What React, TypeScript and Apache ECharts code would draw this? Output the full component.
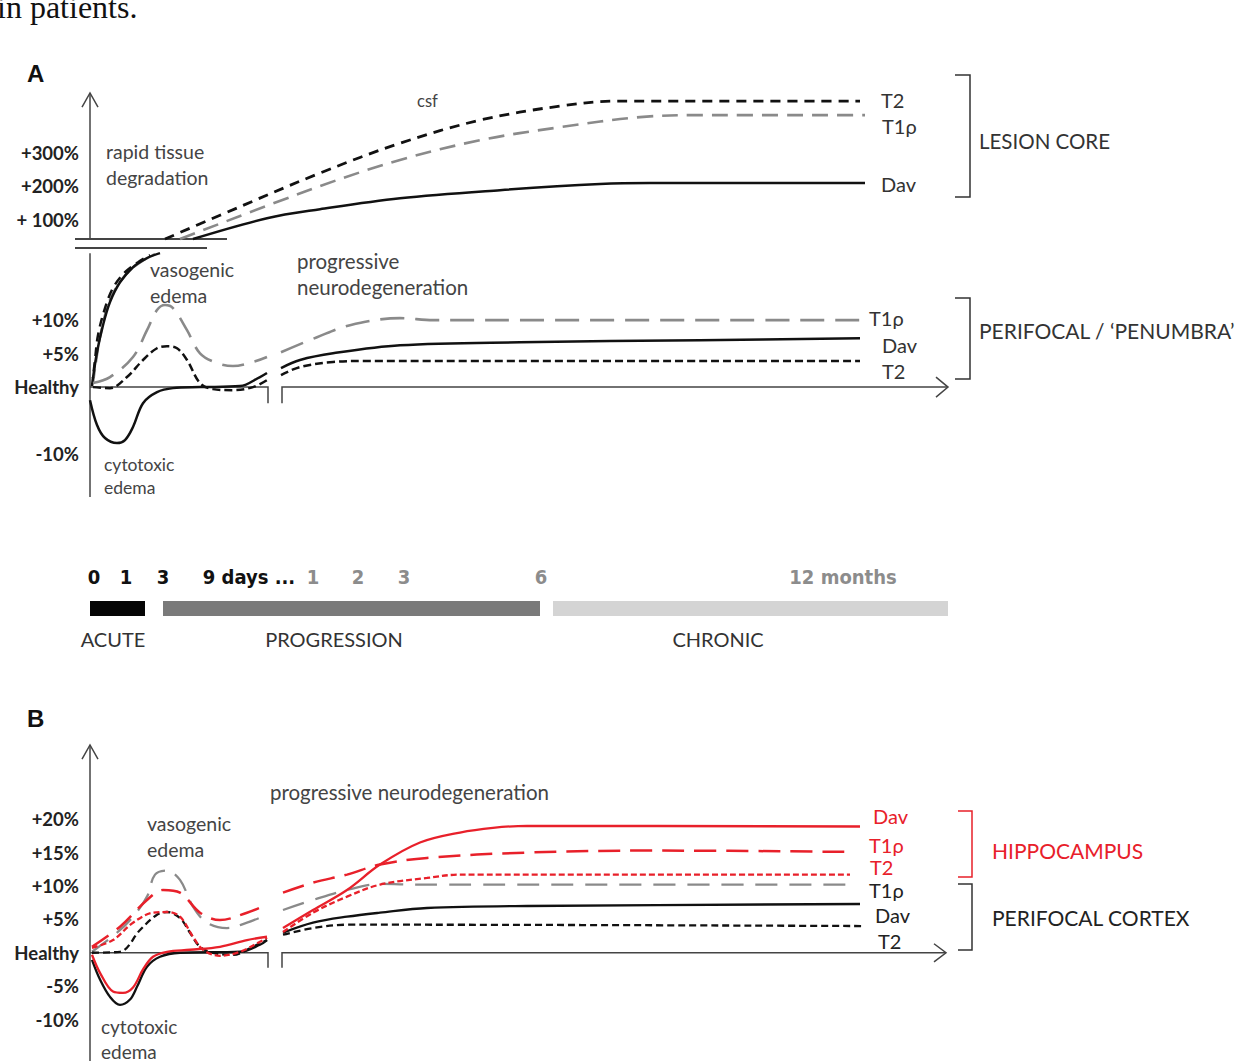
import React, { useEffect, useRef } from 'react';
import * as echarts from 'echarts';

// ---------- Panel A (broken axis, 1 unit = 5% below the break, 100% above it; Healthy = 0) ----------
const A_TICK_VALUES = [-2, 0, 1, 2, 5, 6, 7];
const A_TICK_LABELS = ['-10%', 'Healthy', '+5%', '+10%', '+ 100%', '+200%', '+300%'];

// lesion core, part below the axis break
const CORE_T2_LOW = [[2, 0.03], [5, 0.81], [8, 1.55], [15, 2.36], [23, 2.96], [35, 3.43], [48, 3.73], [60, 3.94]];
const CORE_T1R_LOW = [[3, 0.12], [7, 0.96], [11, 1.64], [18, 2.45], [27, 3.01], [39, 3.46], [52, 3.76], [65, 3.97]];
const CORE_DAV_LOW = [[3, 0.27], [7, 1.04], [13, 1.85], [20, 2.54], [30, 3.13], [43, 3.58], [57, 3.85], [70, 4.0]];
// lesion core, part above the axis break
const CORE_T2_UP = [[75, 4.42], [130, 5.13], [230, 6.39], [310, 7.28], [390, 7.97], [470, 8.39], [530, 8.54], [770, 8.54]];
const CORE_T1R_UP = [[90, 4.42], [230, 6.0], [310, 6.78], [390, 7.37], [470, 7.76], [550, 8.06], [610, 8.12], [775, 8.12]];
const CORE_DAV_UP = [[103, 4.42], [177, 5.04], [230, 5.31], [310, 5.64], [410, 5.88], [510, 6.06], [560, 6.09], [775, 6.09]];

// perifocal / penumbra
const PERI_DAV_EARLY = [[0, -0.39], [7, -1.13], [15, -1.52], [27, -1.67], [35, -1.58], [43, -1.19], [53, -0.48], [67, -0.15], [83, -0.03], [110, 0], [150, 0.03], [170, 0.3], [177, 0.42]];
const PERI_DAV_LATE = [[191, 0.57], [210, 0.81], [243, 1.01], [310, 1.25], [430, 1.34], [610, 1.4], [770, 1.46]];
const PERI_T1R_EARLY = [[3, 0.12], [20, 0.3], [43, 0.9], [57, 1.7], [67, 2.3], [75, 2.45], [83, 2.36], [97, 1.7], [110, 1.01], [127, 0.72], [143, 0.63], [163, 0.75], [177, 0.9]];
const PERI_T1R_LATE = [[191, 1.04], [227, 1.49], [260, 1.85], [310, 2.06], [343, 2.0], [410, 2.0], [770, 2.0]];
const PERI_T2_EARLY = [[3, 0], [20, -0.03], [37, 0.3], [53, 0.81], [67, 1.16], [77, 1.22], [87, 1.16], [97, 0.81], [110, 0.12], [123, -0.06], [143, -0.09], [163, 0], [177, 0.21]];
const PERI_T2_LATE = [[191, 0.36], [210, 0.6], [243, 0.75], [277, 0.78], [770, 0.78]];

// ---------- Panel B (percent change) ----------
const B_TICK_VALUES = [-10, -5, 0, 5, 10, 15, 20];
const B_TICK_LABELS = ['-10%', '-5%', 'Healthy', '+5%', '+10%', '+15%', '+20%'];

const CTX_T1R_EARLY = [[2, 0.15], [27, 3.0], [43, 5.4], [57, 8.4], [65, 11.7], [77, 12.3], [90, 10.9], [103, 6.9], [117, 4.5], [137, 3.7], [157, 4.5], [177, 5.7]];
const CTX_T1R_LATE = [[193, 6.4], [223, 7.9], [257, 9.4], [290, 10.3], [330, 10.2], [762, 10.2]];
const HIP_T1R_EARLY = [[2, 0.9], [30, 3.9], [57, 7.9], [73, 9.4], [90, 9.0], [110, 6.0], [130, 4.9], [157, 6.0], [177, 7.2]];
const HIP_T1R_LATE = [[193, 9.0], [223, 10.5], [257, 11.7], [290, 13.2], [337, 14.2], [437, 15.0], [560, 15.3], [760, 15.1]];
const HIP_T2_EARLY = [[2, 0.75], [23, 1.9], [43, 4.5], [63, 6.0], [77, 6.1], [90, 5.4], [103, 2.4], [113, 0.45], [130, -0.45], [150, 0.15], [170, 1.65], [177, 2.25]];
const HIP_T2_LATE = [[193, 3.1], [223, 6.0], [257, 8.4], [290, 10.2], [337, 11.2], [370, 11.7], [760, 11.7]];
const CTX_T2_EARLY = [[2, 0], [30, 0.15], [50, 3.4], [67, 5.7], [77, 6.1], [90, 5.2], [100, 3.0], [110, 0.9], [123, 0], [143, -0.3], [163, 0.9], [177, 1.9]];
const CTX_T2_LATE = [[193, 2.7], [223, 3.7], [257, 4.2], [310, 4.2], [772, 4.0]];
const CTX_DAV_EARLY = [[2, -1.05], [10, -4.0], [20, -6.6], [30, -7.8], [40, -7.0], [47, -5.1], [57, -2.1], [70, -0.6], [90, 0], [150, 0.15], [170, 1.2], [177, 1.9]];
const CTX_DAV_LATE = [[193, 3.0], [223, 4.5], [257, 5.4], [290, 6.0], [337, 6.7], [437, 7.0], [770, 7.3]];
const HIP_DAV_EARLY = [[2, -0.3], [10, -3.0], [23, -5.8], [33, -6.0], [43, -5.2], [53, -2.5], [63, -0.6], [77, 0.15], [100, 0.45], [130, 0.9], [157, 1.9], [177, 2.4]];
const HIP_DAV_LATE = [[193, 3.7], [223, 6.4], [257, 9.4], [290, 13.2], [330, 16.5], [370, 18.0], [403, 18.7], [437, 19.0], [770, 18.9]];

// ---------- Timeline ----------
const TL_TICK_POS = [4, 36, 73, 159, 223, 268, 314, 451, 753];
const TL_TICK_LABELS = ['0', '1', '3', '9 days ...', '1', '2', '3', '6', '12 months'];
const TL_TICK_IS_MONTH = [false, false, false, false, true, true, true, true, true];
const PHASE_NAMES = ['ACUTE', 'PROGRESSION', 'CHRONIC'];
const PHASE_START = [0, 73, 463];
const PHASE_END = [55, 450, 858];
const PHASE_CENTER = [23, 244, 628];

// ---------- styling ----------
const FONT = 'Lato, "Open Sans", sans-serif';
const NARROW = '"Liberation Sans Narrow", "DejaVu Sans Condensed", sans-serif';
const BLACK = '#111111';
const GRAY = '#8a8a8a';
const RED = '#e8202a';
const AXIS = '#444444';

const AX_A = { top: 8.78, bottom: -3.28, breakHi: 4.42, breakLo: 4.0 };
const AX_B = { top: 31.1, bottom: -16.2 };

// axis decorations (axis lines with a break, open arrow heads, break marks) in axis coordinates
const DECOR_A = [
  { pts: [[0, AX_A.bottom], [0, AX_A.breakLo]], w: 1.5 },
  { pts: [[0, AX_A.breakHi], [0, AX_A.top]], w: 1.5 },
  { pts: [[-8, AX_A.top - 0.42], [0, AX_A.top], [8, AX_A.top - 0.42]], w: 1.5 },
  { pts: [[-15, AX_A.breakHi], [137, AX_A.breakHi]], w: 2 },
  { pts: [[-15, 4.15], [117, 4.15]], w: 2 },
  { pts: [[0, 0], [178, 0], [178, -0.48]], w: 1.5 },
  { pts: [[192, -0.48], [192, 0], [858, 0]], w: 1.5 },
  { pts: [[846, 0.3], [858, 0], [846, -0.3]], w: 1.5 },
];
const DECOR_B = [
  { pts: [[0, AX_B.bottom], [0, AX_B.top]], w: 1.5 },
  { pts: [[-8, AX_B.top - 2.1], [0, AX_B.top], [8, AX_B.top - 2.1]], w: 1.5 },
  { pts: [[0, 0], [178, 0], [178, -2.25]], w: 1.5 },
  { pts: [[192, -2.25], [192, 0], [856, 0]], w: 1.5 },
  { pts: [[844, 1.35], [856, 0], [844, -1.35]], w: 1.5 },
];

function curve(grid: number, data: number[][], color: string, width: number, type: any, z = 3) {
  return {
    type: 'line', xAxisIndex: grid, yAxisIndex: grid, data, symbol: 'none', smooth: 0.35,
    lineStyle: { color, width, type, cap: 'butt' }, silent: true, clip: false, z,
  };
}
function decoSeries(grid: number, decor: { pts: number[][]; w: number }[]) {
  return {
    type: 'custom', xAxisIndex: grid, yAxisIndex: grid, silent: true, z: 2, clip: false,
    data: decor.map(() => [100, 0]),
    encode: { x: 0, y: 1 },
    renderItem: (params: any, api: any) => {
      const d = decor[params.dataIndex];
      return {
        type: 'polyline',
        shape: { points: d.pts.map((p) => api.coord(p)) },
        style: { stroke: AXIS, lineWidth: d.w, fill: 'none' },
      };
    },
  };
}

function text(x: number, y: number, t: string, size = 17, fill = '#444', weight = 'normal', family = FONT) {
  return { type: 'text', x, y, z: 50, silent: true, style: { text: t, fill, font: `${weight} ${size}px ${family}`, verticalAlign: 'middle', align: 'left' } };
}
function bracket(x0: number, x1: number, y0: number, y1: number, color: string) {
  return { type: 'polyline', z: 50, silent: true, shape: { points: [[x0, y0], [x1, y0], [x1, y1], [x0, y1]] }, style: { stroke: color, lineWidth: 1.5, fill: null } };
}

export default function App() {
  const ref = useRef<HTMLDivElement>(null);
  useEffect(() => {
    if (!ref.current) return;
    const chart = echarts.init(ref.current, undefined, { renderer: 'svg' });
    const yLabelA: any = {};
    A_TICK_VALUES.forEach((v, i) => (yLabelA[String(v)] = A_TICK_LABELS[i]));
    const yLabelB: any = {};
    B_TICK_VALUES.forEach((v, i) => (yLabelB[String(v)] = B_TICK_LABELS[i]));

    const hiddenX = (grid: number) => ({ type: 'value', gridIndex: grid, min: 0, max: 860, show: false });
    const labelAxisY = (grid: number, min: number, max: number, values: number[], map: any) => ({
      type: 'value', gridIndex: grid, min, max,
      axisLine: { show: false }, axisTick: { show: false }, splitLine: { show: false },
      axisLabel: {
        customValues: values, formatter: (v: number) => map[String(v)] ?? '',
        fontFamily: FONT, fontWeight: 'bold', fontSize: 18.5, color: '#222', margin: 11,
      },
    });

    const option: any = {
      animation: false,
      backgroundColor: '#ffffff',
      grid: [
        { left: 90, top: 93, width: 860, height: 404 },
        { left: 90, top: 745, width: 860, height: 316 },
        { left: 90, top: 601, width: 860, height: 15 },
      ],
      xAxis: [
        hiddenX(0),
        hiddenX(1),
        {
          type: 'value', gridIndex: 2, min: 0, max: 860, position: 'top',
          axisLine: { show: false }, axisTick: { show: false }, splitLine: { show: false },
          axisLabel: {
            customValues: TL_TICK_POS, margin: 14,
            formatter: (v: number) => {
              const i = TL_TICK_POS.indexOf(v);
              if (i < 0) return '';
              return `{${TL_TICK_IS_MONTH[i] ? 'm' : 'd'}|${TL_TICK_LABELS[i]}}`;
            },
            rich: {
              d: { color: '#111', fontWeight: 'bold', fontSize: 20, fontFamily: NARROW },
              m: { color: '#8c8c8c', fontWeight: 'bold', fontSize: 20, fontFamily: NARROW },
            },
          },
        },
        {
          type: 'value', gridIndex: 2, min: 0, max: 860, position: 'bottom',
          axisLine: { show: false }, axisTick: { show: false }, splitLine: { show: false },
          axisLabel: {
            customValues: PHASE_CENTER, margin: 13,
            formatter: (v: number) => PHASE_NAMES[PHASE_CENTER.indexOf(v)] ?? '',
            fontFamily: FONT, fontSize: 20, color: '#333',
          },
        },
      ],
      yAxis: [
        labelAxisY(0, AX_A.bottom, AX_A.top, A_TICK_VALUES, yLabelA),
        labelAxisY(1, AX_B.bottom, AX_B.top, B_TICK_VALUES, yLabelB),
        { type: 'value', gridIndex: 2, min: 0, max: 1, show: false },
      ],
      series: [
        decoSeries(0, DECOR_A),
        // ----- panel A curves -----
        curve(0, CORE_T1R_LOW, GRAY, 2.5, [14, 7]),
        curve(0, CORE_T2_LOW, BLACK, 2.5, [9, 6]),
        curve(0, CORE_DAV_LOW, BLACK, 2.5, 'solid'),
        curve(0, CORE_T1R_UP, GRAY, 2.6, [16, 9]),
        curve(0, CORE_T2_UP, BLACK, 2.8, [10, 7]),
        curve(0, CORE_DAV_UP, BLACK, 2.5, 'solid'),
        curve(0, PERI_T1R_EARLY, GRAY, 2.6, [22, 11]),
        curve(0, PERI_T1R_LATE, GRAY, 2.6, [24, 11]),
        curve(0, PERI_T2_EARLY, BLACK, 2.5, [8, 4]),
        curve(0, PERI_T2_LATE, BLACK, 2.5, [8, 4]),
        curve(0, PERI_DAV_EARLY, BLACK, 2.5, 'solid'),
        curve(0, PERI_DAV_LATE, BLACK, 2.5, 'solid'),
        decoSeries(1, DECOR_B),
        // ----- panel B curves -----
        curve(1, CTX_T1R_EARLY, GRAY, 2.3, [20, 11]),
        curve(1, CTX_T1R_LATE, GRAY, 2.3, [22, 12]),
        curve(1, CTX_T2_EARLY, BLACK, 2.3, [7, 4]),
        curve(1, CTX_T2_LATE, BLACK, 2.3, [7, 4]),
        curve(1, CTX_DAV_EARLY, BLACK, 2.3, 'solid'),
        curve(1, CTX_DAV_LATE, BLACK, 2.3, 'solid'),
        curve(1, HIP_T1R_EARLY, RED, 2.5, [20, 10], 4),
        curve(1, HIP_T1R_LATE, RED, 2.5, [22, 10], 4),
        curve(1, HIP_T2_EARLY, RED, 2.3, [6, 3], 4),
        curve(1, HIP_T2_LATE, RED, 2.3, [6, 3], 4),
        curve(1, HIP_DAV_EARLY, RED, 2.3, 'solid', 4),
        curve(1, HIP_DAV_LATE, RED, 2.3, 'solid', 4),
        // ----- timeline phases -----
        {
          type: 'custom', xAxisIndex: 2, yAxisIndex: 2, silent: true,
          data: PHASE_START.map((s, i) => [s, PHASE_END[i], 0.5]),
          encode: { x: [0, 1], y: 2 },
          renderItem: (params: any, api: any) => {
            const p0 = api.coord([api.value(0), 1]);
            const p1 = api.coord([api.value(1), 0]);
            const fills = ['#050505', '#7a7a7a', '#d4d4d4'];
            return {
              type: 'rect',
              shape: { x: p0[0], y: p0[1], width: p1[0] - p0[0], height: p1[1] - p0[1] },
              style: { fill: fills[params.dataIndex] },
            };
          },
        },
      ],
      graphic: [
        text(-3, 7, 'in patients.', 32, '#111', 'normal', '"Liberation Serif", "DejaVu Serif", serif'),
        text(27, 73, 'A', 24, '#111', 'bold', '"Liberation Sans", Arial, sans-serif'),
        text(27, 718, 'B', 24, '#111', 'bold', '"Liberation Sans", Arial, sans-serif'),
        // panel A annotations
        text(417, 101, 'csf', 16.5),
        text(106, 151, 'rapid tissue', 19.5),
        text(106, 177, 'degradation', 19.5),
        text(150, 269, 'vasogenic', 19.5),
        text(150, 295, 'edema', 19.5),
        text(297, 261, 'progressive', 20.5),
        text(297, 287, 'neurodegeneration', 20.5),
        text(104, 464, 'cytotoxic', 17.5),
        text(104, 487, 'edema', 17.5),
        text(881, 100, 'T2', 20, '#333'),
        text(882, 126, 'T1ρ', 20, '#333'),
        text(881, 184, 'Dav', 20, '#333'),
        text(869, 318, 'T1ρ', 20, '#333'),
        text(882, 345, 'Dav', 20, '#333'),
        text(882, 371, 'T2', 20, '#333'),
        bracket(955, 970, 75, 197, '#333'),
        bracket(955, 970, 298, 379, '#333'),
        text(979, 141, 'LESION CORE', 20.5, '#333'),
        text(979, 330, 'PERIFOCAL / ‘PENUMBRA’', 21, '#333'),
        // panel B annotations
        text(270, 792, 'progressive neurodegeneration', 20.5),
        text(147, 823, 'vasogenic', 19.5),
        text(147, 849, 'edema', 19.5),
        text(101, 1026, 'cytotoxic', 19),
        text(101, 1051, 'edema', 19),
        text(873, 816, 'Dav', 20, RED),
        text(869, 845, 'T1ρ', 20, RED),
        text(870, 867, 'T2', 20, RED),
        text(869, 890, 'T1ρ', 20, '#222'),
        text(875, 915, 'Dav', 20, '#222'),
        text(878, 941, 'T2', 20, '#222'),
        bracket(958, 972, 811, 877, RED),
        bracket(958, 972, 884, 950, '#333'),
        text(992, 850, 'HIPPOCAMPUS', 21, RED),
        text(992, 917, 'PERIFOCAL CORTEX', 21, '#222'),
      ],
    };
    chart.setOption(option);
    return () => chart.dispose();
  }, []);
  return <div ref={ref} style={{ position: 'fixed', left: 0, top: 0, width: 1243, height: 1061, background: '#fff' }} />;
}
